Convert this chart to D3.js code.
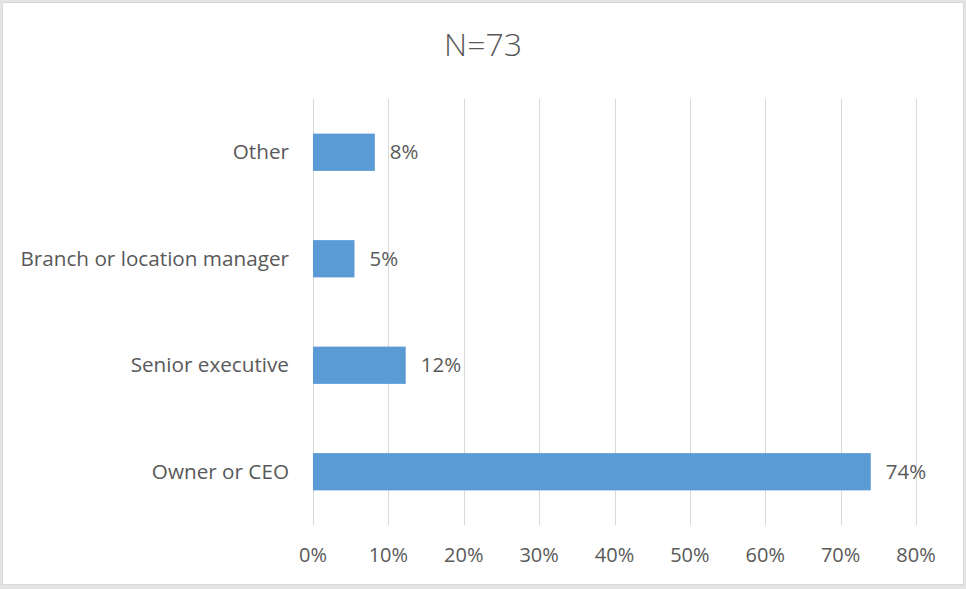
<!DOCTYPE html>
<html>
<head>
<meta charset="utf-8">
<script src="https://cdn.jsdelivr.net/npm/d3@7"></script>
<style>
  html, body { margin: 0; padding: 0; background: #e4e4e4; }
  svg { display: block; }
  text { font-family: "Open Sans", sans-serif; fill: #595959; }
</style>
</head>
<body>
<div id="chart"></div>
<script>
// chart values (top to bottom)
const categories = ["Other", "Branch or location manager", "Senior executive", "Owner or CEO"];
const shares = [8.2, 5.5, 12.3, 74.0];
const shareLabels = ["8%", "5%", "12%", "74%"];
const xTicks = [0, 10, 20, 30, 40, 50, 60, 70, 80];
const title = "N=73";

const width = 966;
const height = 589;
const margin = { top: 99, right: 50, bottom: 64, left: 313 };

const svg = d3.select("#chart").append("svg")
  .attr("width", width)
  .attr("height", height);

// white chart area with thin border
svg.append("rect")
  .attr("x", 2.5)
  .attr("y", 2.5)
  .attr("width", 961)
  .attr("height", 582)
  .style("fill", "#fff")
  .style("stroke", "#d9d9d9");

svg.append("text")
  .attr("x", 483)
  .attr("y", 45)
  .attr("dy", "0.35em")
  .style("text-anchor", "middle")
  .style("font-size", "32px")
  .style("font-weight", 300)
  .text(title);

const x = d3.scaleLinear()
  .domain([0, 80])
  .range([margin.left, width - margin.right]);

const y = d3.scaleBand()
  .domain(categories)
  .range([margin.top, height - margin.bottom])
  .paddingInner(0.65)
  .paddingOuter(0.325);

// vertical gridlines
svg.append("g")
  .selectAll("line")
  .data(xTicks)
  .join("line")
  .attr("x1", d => Math.round(x(d)) + 0.5)
  .attr("x2", d => Math.round(x(d)) + 0.5)
  .attr("y1", margin.top)
  .attr("y2", height - margin.bottom)
  .style("stroke", "#d9d9d9");

// x tick labels
svg.append("g")
  .selectAll("text")
  .data(xTicks)
  .join("text")
  .attr("x", d => x(d))
  .attr("y", 555)
  .attr("dy", "0.35em")
  .style("text-anchor", "middle")
  .style("font-size", "20px")
  .text(d => d + "%");

// category labels
svg.append("g")
  .selectAll("text")
  .data(categories)
  .join("text")
  .attr("x", margin.left - 24)
  .attr("y", d => y(d) + y.bandwidth() / 2)
  .attr("dy", "0.35em")
  .style("text-anchor", "end")
  .style("font-size", "20.7px")
  .text(d => d);

// bars
svg.append("g")
  .selectAll("rect")
  .data(categories)
  .join("rect")
  .attr("x", x(0))
  .attr("y", d => y(d))
  .attr("width", (d, i) => x(shares[i]) - x(0))
  .attr("height", y.bandwidth())
  .style("fill", "#5b9bd5");

// value labels
svg.append("g")
  .selectAll("text")
  .data(categories)
  .join("text")
  .attr("x", (d, i) => x(shares[i]) + 15)
  .attr("y", d => y(d) + y.bandwidth() / 2)
  .attr("dy", "0.35em")
  .style("font-size", "20.5px")
  .text((d, i) => shareLabels[i]);
</script>
</body>
</html>
